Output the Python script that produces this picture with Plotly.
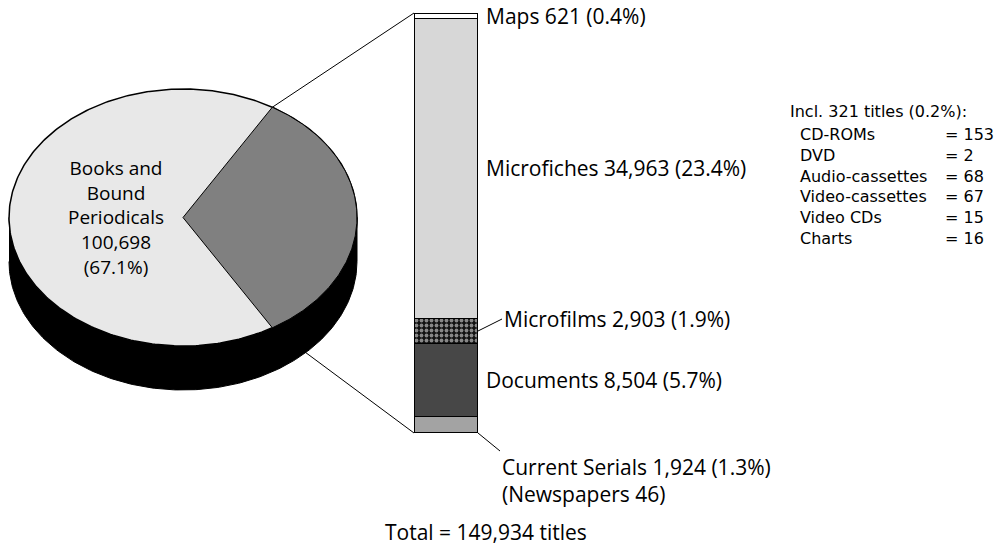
import numpy as np
import plotly.graph_objects as go

# ---------------- data ----------------
total_titles = 149934
pie_labels = ["Books and Bound Periodicals", "Other materials"]
pie_values = [100698, 149934 - 100698]
books_pct = "67.1%"

bar_categories = ["Current Serials", "Documents", "Microfilms", "Microfiches", "Maps"]
bar_values = [1924, 8504, 2903, 34963, 621]
bar_pcts = ["1.3%", "5.7%", "1.9%", "23.4%", "0.4%"]
newspapers = 46

incl_total = 321
incl_pct = "0.2%"
incl_items = ["CD-ROMs", "DVD", "Audio-cassettes", "Video-cassettes", "Video CDs", "Charts"]
incl_values = [153, 2, 68, 67, 15, 16]

# ---------------- layout constants ----------------
W, H = 1006, 548
FONT = "Open Sans"
CX, CY, RX, RY, DEPTH = 183, 217.5, 174, 128.5, 44
BAR_X0, BAR_X1, BAR_TOP, BAR_BOT = 414, 478, 13, 433

face_col = "#e8e8e8"
slice_col = "#808080"
bar_colors = {"Current Serials": "#a3a3a3", "Documents": "#474747",
              "Microfilms": "#111111", "Microfiches": "#d7d7d7", "Maps": "#ffffff"}

fig = go.Figure()

# pie geometry from data
frac = pie_values[1] / sum(pie_values)
half = frac * np.pi
ux, uy = CX + RX * np.cos(half), CY - RY * np.sin(half)
lx, ly = CX + RX * np.cos(half), CY + RY * np.sin(half)

line_style = dict(color="black", width=1)
# leader lines (drawn first, pie covers them)
fig.add_trace(go.Scatter(x=[ux, BAR_X0], y=[uy, BAR_TOP], mode="lines", line=line_style,
                         xaxis="x", yaxis="y", hoverinfo="skip"))
fig.add_trace(go.Scatter(x=[lx, BAR_X0], y=[ly, BAR_BOT], mode="lines", line=line_style,
                         xaxis="x", yaxis="y", hoverinfo="skip"))

# side band (3D depth)
t = np.linspace(0, np.pi, 200)
rim_x = CX - RX * np.cos(t)
rim_y = CY + RY * np.sin(t)
side_x = np.concatenate([rim_x, rim_x[::-1]])
side_y = np.concatenate([rim_y, (rim_y + DEPTH)[::-1]])
fig.add_trace(go.Scatter(x=side_x, y=side_y, fill="toself", fillcolor="black", mode="lines",
                         line=dict(color="black", width=1), hoverinfo="skip"))

# top face
tt = np.linspace(0, 2 * np.pi, 400)
fig.add_trace(go.Scatter(x=CX + RX * np.cos(tt), y=CY - RY * np.sin(tt), fill="toself",
                         fillcolor=face_col, mode="lines", line=dict(color="black", width=1.5),
                         hoverinfo="skip"))

# other-materials slice
ts = np.linspace(-half, half, 200)
sx = np.concatenate([[CX], CX + RX * np.cos(ts), [CX]])
sy = np.concatenate([[CY], CY - RY * np.sin(ts), [CY]])
fig.add_trace(go.Scatter(x=sx, y=sy, fill="toself", fillcolor=slice_col, mode="lines",
                         line=dict(color="black", width=1), hoverinfo="skip"))

# stacked bar
for cat, val in zip(bar_categories, bar_values):
    marker = dict(color=bar_colors[cat], line=dict(color="black", width=1.2))
    if cat == "Microfilms":
        marker["pattern"] = dict(shape=".", fgcolor="white", bgcolor="#111111",
                                 size=5, solidity=0.45)
    fig.add_trace(go.Bar(x=[0], y=[val], width=1, marker=marker, name=cat,
                         xaxis="x2", yaxis="y2", hoverinfo="skip"))

bar_total = sum(bar_values)
cum = np.cumsum([0] + bar_values)
mids = {c: (cum[i] + cum[i + 1]) / 2 for i, c in enumerate(bar_categories)}
lbl = {c: f"{c} {v:,} ({p})" for c, v, p in zip(bar_categories, bar_values, bar_pcts)}

ann = []
fmain = dict(family=FONT, size=21, color="black")
for c in ["Maps", "Microfiches", "Documents"]:
    ann.append(dict(x=0.5, y=mids[c], xref="x2", yref="y2", text=lbl[c], showarrow=False,
                    xanchor="left", yanchor="middle", xshift=6, font=fmain))
ann.append(dict(x=0.5, y=mids["Microfilms"], xref="x2", yref="y2", text=lbl["Microfilms"],
                showarrow=True, arrowhead=0, arrowwidth=1, arrowcolor="black", ax=24, ay=-12,
                xanchor="left", yanchor="middle", font=fmain, standoff=0))
ann.append(dict(x=0.5, y=0, xref="x2", yref="y2",
                text=f"{lbl['Current Serials']}<br>(Newspapers {newspapers})",
                showarrow=True, arrowhead=0, arrowwidth=1, arrowcolor="black", ax=22, ay=18,
                xanchor="left", yanchor="top", align="left", font=fmain, standoff=0))

# pie label
pie_lines = ["Books and", "Bound", "Periodicals", f"{pie_values[0]:,}", f"({books_pct})"]
ann.append(dict(x=116, y=217, xref="x", yref="y", text="<br>".join(pie_lines), showarrow=False,
                xanchor="center", yanchor="middle", align="center",
                font=dict(family=FONT, size=19, color="black")))

# included items block
fsm = dict(family="DejaVu Sans", size=16, color="black")
ann.append(dict(x=788, y=111, xref="x", yref="y", text=f"Incl. {incl_total} titles ({incl_pct}):",
                showarrow=False, xanchor="left", yanchor="middle", font=fsm))
ann.append(dict(x=798, y=123, xref="x", yref="y", text="<br>".join(incl_items),
                showarrow=False, xanchor="left", yanchor="top", align="left", font=fsm))
ann.append(dict(x=943, y=123, xref="x", yref="y",
                text="<br>".join(f"= {v}" for v in incl_values),
                showarrow=False, xanchor="left", yanchor="top", align="left", font=fsm))

ann.append(dict(x=486, y=532, xref="x", yref="y", text=f"Total = {total_titles:,} titles",
                showarrow=False, font=fmain))

hidden = dict(visible=False, showgrid=False, zeroline=False, fixedrange=True)
fig.update_layout(
    width=W, height=H, margin=dict(l=0, r=0, t=0, b=0),
    paper_bgcolor="white", plot_bgcolor="rgba(0,0,0,0)",
    showlegend=False, barmode="stack", hovermode=False,
    xaxis=dict(range=[0, W], domain=[0, 1], **hidden),
    yaxis=dict(range=[H, 0], domain=[0, 1], **hidden),
    xaxis2=dict(range=[-0.5, 0.5], domain=[BAR_X0 / W, BAR_X1 / W], anchor="y2", **hidden),
    yaxis2=dict(range=[0, bar_total], domain=[(H - BAR_BOT) / H, (H - BAR_TOP) / H],
                anchor="x2", **hidden),
    annotations=ann,
)

fig.write_html("out.html", config={"displayModeBar": False},
               post_script="document.body.style.margin='0';document.body.style.overflow='hidden';")
